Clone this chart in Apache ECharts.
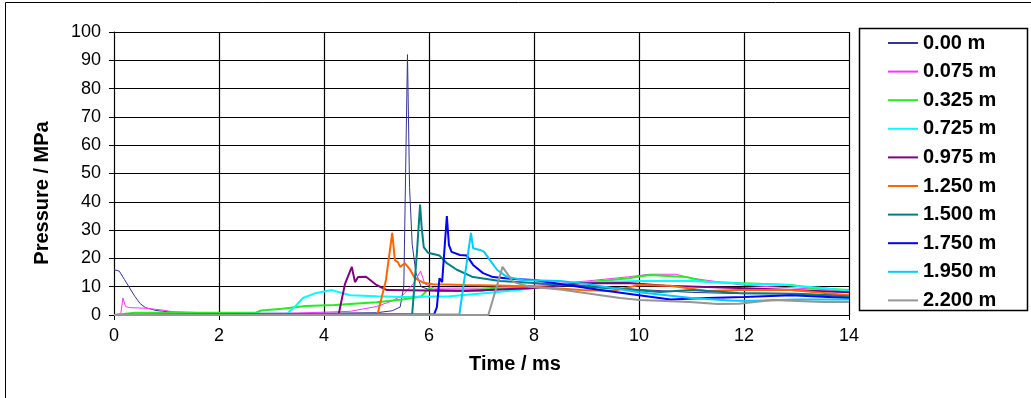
<!DOCTYPE html>
<html>
<head>
<meta charset="utf-8">
<title>Pressure history</title>
<script src="https://cdn.jsdelivr.net/npm/echarts@6/dist/echarts.min.js"></script>
<style>
  html, body { margin: 0; padding: 0; background: #fff; }
  #chart { width: 1031px; height: 398px; }
</style>
</head>
<body>
<div id="chart"></div>
<script>
// Gauge positions along the tube (legend labels)
const gaugeNames = ['0.00 m', '0.075 m', '0.325 m', '0.725 m', '0.975 m',
                    '1.250 m', '1.500 m', '1.750 m', '1.950 m', '2.200 m'];

// Pressure records: [time (ms), pressure (MPa)]
const p000 = [[0,16],[0.1,15.5],[0.2,12.5],[0.3,9.5],[0.4,6.5],[0.5,4],[0.6,2.6],[0.8,1.6],[1.2,0.8],[3,0.5],
  [5,0.8],[5.3,1.5],[5.45,2.8],[5.52,10],[5.59,92],[5.63,45],[5.68,25],[5.75,15],[5.85,10],[6,9],
  [7,8.5],[8,10],[9,10.5],[10,9],[11,8],[12,7.5],[13,7.5],[14,7]];
const p075 = [[0,0],[0.13,0.5],[0.17,6],[0.22,3],[0.3,2.6],[0.6,2.4],[0.9,1.8],[1.1,1.2],[2,0.6],[3.5,0.7],
  [4,1],[4.5,1.3],[5,3],[5.3,5],[5.5,7],[5.7,11],[5.84,15.5],[5.92,11],[6.1,9.5],[7,9.5],
  [8,10.5],[9,12],[9.8,13.5],[10.2,14.4],[10.7,14.4],[11,13],[12,10.5],[13,9.5],[14,8.5]];
const p325 = [[0,0],[0.4,0.8],[2.7,0.8],[2.8,1.6],[3.2,2.2],[3.65,3.2],[4.2,3.5],[5,4.5],[5.5,5.5],[5.85,6.5],
  [6,9.5],[6.15,8.5],[7,9],[8,10],[9,11.5],[9.8,13],[10.2,14.1],[10.9,13.4],[11.3,11.7],[12,11.2],
  [12.9,10.6],[13.3,9.5],[14,8.8]];
const p725 = [[0,0],[3.3,0.5],[3.45,3],[3.6,6],[3.85,7.8],[4.15,8.8],[4.5,7],[5,6.6],[5.5,6.4],[6.4,6.6],
  [7.1,7.8],[7.7,8.8],[8.2,10],[9,11.5],[10,12],[11,12],[12,11],[12.8,10.6],[13.5,9.5],[14,8.5]];
const p975 = [[0,0],[4.28,0.3],[4.4,11],[4.53,17],[4.59,11.6],[4.65,13.4],[4.8,13.5],[5,10.6],[5.2,8.8],[6.7,8.5],
  [8,9.5],[8.9,11.2],[9.8,11.3],[10.5,10.3],[11.9,9.5],[12.9,8.8],[14,8]];
const p1250 = [[0,0],[5.02,0.3],[5.18,12.4],[5.3,29],[5.35,19.4],[5.41,18.6],[5.45,17],[5.54,18.3],[5.64,16],[5.73,13],
  [5.89,11.4],[6.08,10.9],[6.7,10.6],[7.5,10.3],[8,10],[8.9,8.8],[9.5,8.5],[10,10.6],[10.6,10.3],[11.3,8.5],
  [11.9,8.8],[12.9,8.8],[14,7]];
const p1500 = [[0,0],[5.68,0.3],[5.77,22],[5.83,39],[5.86,31],[5.9,24],[5.98,22],[6.2,21],[6.34,18.3],[6.53,16],
  [6.84,13.4],[7.35,12],[8,11.3],[9,10],[9.8,9],[10.4,8.1],[11,8.8],[11.9,7.8],[13,7.5],[14,6.5]];
const p1750 = [[0,0],[6.1,0.3],[6.15,2.8],[6.2,13],[6.25,11.6],[6.34,35],[6.38,24.7],[6.43,22.3],[6.59,21.2],[6.72,21],
  [6.84,17.7],[7.03,14.8],[7.22,13.4],[7.6,12.7],[8,12.4],[9.2,9],[10,7],[10.6,5.5],[11.3,6],[12,6.4],
  [12.9,7],[14,6]];
const p1950 = [[0,0],[6.58,0.3],[6.69,14.8],[6.8,29],[6.84,23.6],[6.97,23],[7.05,22.3],[7.16,19.4],[7.3,15.9],[7.49,13.4],
  [7.8,12.4],[8.5,12],[9,11],[10,8],[11,6],[11.8,5],[12.2,5],[13,5.5],[14,5.5]];
const p2200 = [[0,0],[7.13,0],[7.4,17],[7.6,11.7],[7.92,10],[8.5,9],[9.64,6],[10.02,5.3],[10.97,4.6],[11.5,3.9],
  [11.9,4],[12.55,5.3],[13.5,4.6],[14,4.6]];

const records = [p000, p075, p325, p725, p975, p1250, p1500, p1750, p1950, p2200];
const lineColors = ['#333399', '#ff33ff', '#22ee22', '#00ffff', '#800080',
                    '#ff6600', '#008080', '#0000ff', '#00ccff', '#969696'];
const lineWidths = [1, 1, 2, 2, 2, 2, 2, 2, 2, 2];

const font = "'Liberation Sans', Arial, sans-serif";

const chart = echarts.init(document.getElementById('chart'), null, { renderer: 'canvas' });

chart.setOption({
  animation: false,
  backgroundColor: '#ffffff',
  grid: { left: 114, right: 182, top: 32, bottom: 83 },
  xAxis: {
    type: 'value', min: 0, max: 14, interval: 2,
    axisLine: { onZero: false, lineStyle: { color: '#000', width: 1 } },
    axisTick: { show: true, length: 5, inside: false, lineStyle: { color: '#000' } },
    axisLabel: { color: '#000', fontFamily: font, fontSize: 18, margin: 12 },
    splitLine: { show: true, lineStyle: { color: '#000', width: 1.2 } }
  },
  yAxis: {
    type: 'value', min: 0, max: 100, interval: 10,
    axisLine: { show: true, lineStyle: { color: '#000', width: 1 } },
    axisTick: { show: true, length: 5, inside: false, lineStyle: { color: '#000' } },
    axisLabel: { color: '#000', fontFamily: font, fontSize: 18, margin: 13 },
    splitLine: { show: true, lineStyle: { color: '#000', width: 1.2 } }
  },
  legend: {
    orient: 'vertical',
    left: 883, top: 28,
    icon: 'rect',
    itemWidth: 30, itemHeight: 2, itemGap: 8.6,
    textStyle: { color: '#000', fontFamily: font, fontSize: 20, fontWeight: 'bold', lineHeight: 20 },
    data: gaugeNames
  },
  graphic: [
    { type: 'rect', silent: true, z: -1,
      shape: { x: 5.5, y: 2.5, width: 1100, height: 500 },
      style: { fill: 'none', stroke: '#000', lineWidth: 1 } },
    { type: 'rect', silent: true,
      shape: { x: 859.5, y: 28.5, width: 168, height: 282 },
      style: { fill: 'none', stroke: '#000', lineWidth: 1.5 } },
    { type: 'text', silent: true, x: 42, y: 193, rotation: Math.PI / 2,
      style: { text: 'Pressure / MPa', fill: '#000', font: "bold 20px 'Liberation Sans', Arial, sans-serif",
               align: 'center', verticalAlign: 'middle' } },
    { type: 'text', silent: true, x: 515, y: 364,
      style: { text: 'Time / ms', fill: '#000', font: "bold 20px 'Liberation Sans', Arial, sans-serif",
               align: 'center', verticalAlign: 'middle' } }
  ],
  series: records.map((data, i) => ({
    name: gaugeNames[i],
    type: 'line',
    data: data,
    symbol: 'none',
    showSymbol: false,
    smooth: false,
    clip: true,
    color: lineColors[i],
    lineStyle: { color: lineColors[i], width: lineWidths[i] },
    emphasis: { disabled: true }
  }))
});
</script>
</body>
</html>
